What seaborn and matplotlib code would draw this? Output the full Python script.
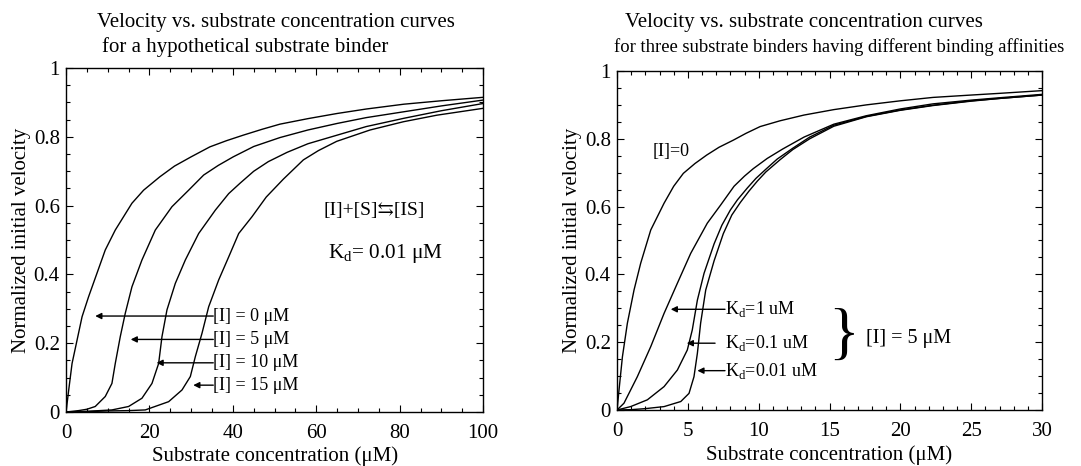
import numpy as np
import pandas as pd
import seaborn as sns
import matplotlib.pyplot as plt
from matplotlib.ticker import MultipleLocator

# ---------------------------------------
# datos
# ---------------------------------------
# panel izquierdo: Kd = 0.01 uM, distintos [I]
izq_s_i0 = [0, 0.64, 1.44, 2.64, 3.84, 5.4, 7.4, 9.4, 11.8, 15.8, 18.6, 22.5, 26, 30, 34.5, 38.5,
            42.5, 47, 51.3, 58, 65, 72, 81, 90, 100]
izq_v_i0 = [0, 0.064, 0.141, 0.209, 0.277, 0.335, 0.403, 0.471, 0.529, 0.607, 0.645, 0.684, 0.715,
            0.742, 0.771, 0.789, 0.805, 0.822, 0.837, 0.853, 0.868, 0.881, 0.895, 0.905, 0.915]

izq_s_i5 = [0, 3, 5, 7.0, 9.4, 11.0, 11.8, 13.0, 14.2, 15.8, 18.2, 21.4, 25.4, 29.4, 33, 36.5,
            40.1, 45, 51.3, 58, 65, 72, 81, 90, 100]
izq_v_i5 = [0, 0.004, 0.008, 0.016, 0.045, 0.083, 0.141, 0.219, 0.287, 0.364, 0.442, 0.529, 0.597,
            0.645, 0.689, 0.717, 0.742, 0.772, 0.798, 0.82, 0.839, 0.856, 0.873, 0.89, 0.907]

izq_s_i10 = [0, 5, 11, 15, 18.2, 20.6, 22.2, 23.0, 24.2, 26.2, 28.6, 31.8, 35.8, 39.0, 41.7, 45,
             48.5, 53, 58, 65, 72, 81, 90, 100]
izq_v_i10 = [0, 0.002, 0.006, 0.016, 0.04, 0.083, 0.141, 0.219, 0.297, 0.374, 0.442, 0.519, 0.587,
             0.635, 0.665, 0.70, 0.728, 0.755, 0.78, 0.805, 0.83, 0.854, 0.876, 0.897]

izq_s_i15 = [0, 5, 10, 15, 19, 24.6, 27.8, 29.8, 31, 32.6, 34.2, 36.6, 39, 41.4, 44.6, 48, 52.1,
             56.9, 60.5, 64.9, 72.9, 80.9, 88.9, 100]
izq_v_i15 = [0, 0.001, 0.003, 0.004, 0.006, 0.03, 0.064, 0.103, 0.161, 0.229, 0.306, 0.384, 0.451,
             0.519, 0.568, 0.625, 0.677, 0.733, 0.76, 0.787, 0.82, 0.844, 0.863, 0.883]

# panel derecho: [I] = 5 uM, distintos Kd
der_s_i0 = [0, 0.14, 0.38, 0.73, 1.2, 1.67, 2.38, 3.32, 4.0, 4.68, 5.5, 6.33, 7.2, 8.21, 9.1, 10.1,
            11.5, 13.2, 15.3, 17.6, 20, 22.3, 25, 27, 30]
der_v_i0 = [0, 0.059, 0.157, 0.256, 0.354, 0.433, 0.531, 0.61, 0.66, 0.698, 0.727, 0.752, 0.775,
            0.796, 0.816, 0.836, 0.853, 0.87, 0.886, 0.9, 0.912, 0.922, 0.929, 0.934, 0.942]

der_s_kd1 = [0, 0.49, 1.43, 2.38, 3.32, 4.26, 5.2, 6.37, 7.32, 8.26, 9.0, 9.62, 10.6, 11.7, 13.2,
             15.3, 17.6, 20, 22.3, 25, 27, 30]
der_v_kd1 = [0, 0.02, 0.098, 0.187, 0.285, 0.374, 0.462, 0.551, 0.605, 0.66, 0.69, 0.712, 0.742,
             0.77, 0.805, 0.843, 0.868, 0.888, 0.903, 0.914, 0.921, 0.931]

der_s_kd01 = [0, 0.96, 2.14, 3.32, 4.26, 4.96, 5.31, 5.67, 6.14, 6.85, 7.4, 8.0, 8.5, 9.2, 9.8,
              10.5, 11.3, 12.4, 13.6, 15.3, 17.6, 20, 22.3, 25, 27, 30]
der_v_kd01 = [0, 0.01, 0.03, 0.069, 0.118, 0.177, 0.236, 0.324, 0.403, 0.49, 0.545, 0.59, 0.62,
              0.655, 0.683, 0.71, 0.74, 0.772, 0.805, 0.84, 0.866, 0.885, 0.899, 0.912, 0.919, 0.929]

der_s_kd001 = [0, 1, 2, 3.32, 4.5, 5.08, 5.43, 5.67, 5.9, 6.26, 6.85, 7.5, 8.1, 8.7, 9.3, 9.9,
               10.5, 11.5, 12.4, 13.6, 15.3, 17.6, 20, 22.3, 25, 27, 30]
der_v_kd001 = [0, 0.001, 0.004, 0.01, 0.025, 0.049, 0.098, 0.167, 0.256, 0.354, 0.44, 0.52, 0.575,
               0.612, 0.645, 0.675, 0.702, 0.738, 0.768, 0.8, 0.837, 0.865, 0.884, 0.898, 0.911,
               0.919, 0.929]

izq_etiquetas = ["[I] = 0 μM", "[I] = 5 μM", "[I] = 10 μM", "[I] = 15 μM"]
der_etiquetas = ["K$_{\\mathregular{d}}$=1 uM", "K$_{\\mathregular{d}}$=0.1 uM", "K$_{\\mathregular{d}}$=0.01 uM"]

# ---------------------------------------
# estilo
# ---------------------------------------
sns.set_theme(style="ticks")
plt.rcParams['font.family'] = ['Liberation Serif', 'DejaVu Serif']
plt.rcParams['mathtext.fontset'] = 'custom'
plt.rcParams['mathtext.rm'] = 'Liberation Serif'
plt.rcParams['text.color'] = 'black'
plt.rcParams['axes.labelcolor'] = 'black'
plt.rcParams['xtick.color'] = 'black'
plt.rcParams['ytick.color'] = 'black'
fs = 15
fs_nota = 13

W, H = 1081, 466
fig = plt.figure(figsize=(W / 100, H / 100), dpi=100)
ax1 = fig.add_axes([0.0611, 0.1159, 0.3858, 0.738])
ax2 = fig.add_axes([0.5708, 0.1202, 0.3932, 0.7275])


def curva(ax, s, v):
    df = pd.DataFrame({'s': s, 'v': v})
    sns.lineplot(data=df, x='s', y='v', ax=ax, color='black', lw=1.0,
                 estimator=None, sort=False)


for s, v in [(izq_s_i0, izq_v_i0), (izq_s_i5, izq_v_i5),
             (izq_s_i10, izq_v_i10), (izq_s_i15, izq_v_i15)]:
    curva(ax1, s, v)

for s, v in [(der_s_i0, der_v_i0), (der_s_kd1, der_v_kd1),
             (der_s_kd01, der_v_kd01), (der_s_kd001, der_v_kd001)]:
    curva(ax2, s, v)

for ax, xmax, xmaj, xmin, lp in [(ax1, 100, 20, 5, 2), (ax2, 30, 5, 1, 3)]:
    ax.set_xlim(0, xmax)
    ax.set_ylim(0, 1)
    ax.xaxis.set_major_locator(MultipleLocator(xmaj))
    ax.xaxis.set_minor_locator(MultipleLocator(xmin))
    ax.yaxis.set_minor_locator(MultipleLocator(0.05))
    ax.set_yticks([0, 0.2, 0.4, 0.6, 0.8, 1])
    ax.set_yticklabels(['0', '0.2', '0.4', '0.6', '0.8', '1'])
    ax.tick_params(which='both', direction='in', top=True, right=True,
                   labelsize=fs, color='black', width=0.8)
    ax.tick_params(which='major', length=5)
    ax.tick_params(which='minor', length=3)
    ax.tick_params(axis='x', which='major', pad=9)
    ax.tick_params(axis='y', which='major', pad=4.5)
    for sp in ax.spines.values():
        sp.set_color('black')
        sp.set_linewidth(1.0)
    ax.set_xlabel("Substrate concentration (μM)", fontsize=fs, labelpad=lp)
    ax.set_ylabel("Normalized initial velocity", fontsize=fs, labelpad=2)

# titulos (cada linea por separado para imitar el original)
fig.text(276 / W, 1 - 22 / H, "Velocity vs. substrate concentration curves",
         fontsize=fs, ha='center', va='center')
fig.text(102 / W, 1 - 47 / H, "for a hypothetical substrate binder",
         fontsize=fs, ha='left', va='center')
fig.text(625 / W, 1 - 22 / H, "Velocity vs. substrate concentration curves",
         fontsize=fs, ha='left', va='center')
fig.text(839 / W, 1 - 47 / H, "for three substrate binders having different binding affinities",
         fontsize=13.4, ha='center', va='center')

flecha = dict(arrowstyle='-|>', color='black', lw=1.0, mutation_scale=9,
              shrinkA=0, shrinkB=0)

# anotaciones panel izquierdo
ax1.text(74, 0.587, "[I]+[S]⇆[IS]", fontsize=14, ha='center', va='center')
ax1.text(76.5, 0.462, "K$_{\\mathregular{d}}$= 0.01 μM", fontsize=15.3, ha='center', va='center')
ys_izq = [0.279, 0.211, 0.143, 0.078]
puntas_izq = [7.0, 15.5, 21.7, 30.5]
for txt, y, xp in zip(izq_etiquetas, ys_izq, puntas_izq):
    ax1.text(35.3, y, txt, fontsize=fs_nota, ha='left', va='center')
    ax1.annotate('', xy=(xp, y), xytext=(35.3, y), arrowprops=flecha)

# anotaciones panel derecho
ax2.text(3.85, 0.761, "[I]=0", fontsize=fs_nota, ha='center', va='center')
ys_der = [0.297, 0.197, 0.116]
puntas_der = [3.79, 4.92, 5.67]
colas_der = [7.62, 6.92, 7.62]
for txt, y, xp, xc in zip(der_etiquetas, ys_der, puntas_der, colas_der):
    ax2.text(7.65, y, txt, fontsize=fs_nota, ha='left', va='center')
    ax2.annotate('', xy=(xp, y), xytext=(xc, y), arrowprops=flecha)
ax2.text(16.0, 0.212, "}", fontsize=46, ha='center', va='center')
ax2.text(17.6, 0.212, "[I] = 5 μM", fontsize=14.5, ha='left', va='center')

fig.savefig("out.png", dpi=100, facecolor='white')
